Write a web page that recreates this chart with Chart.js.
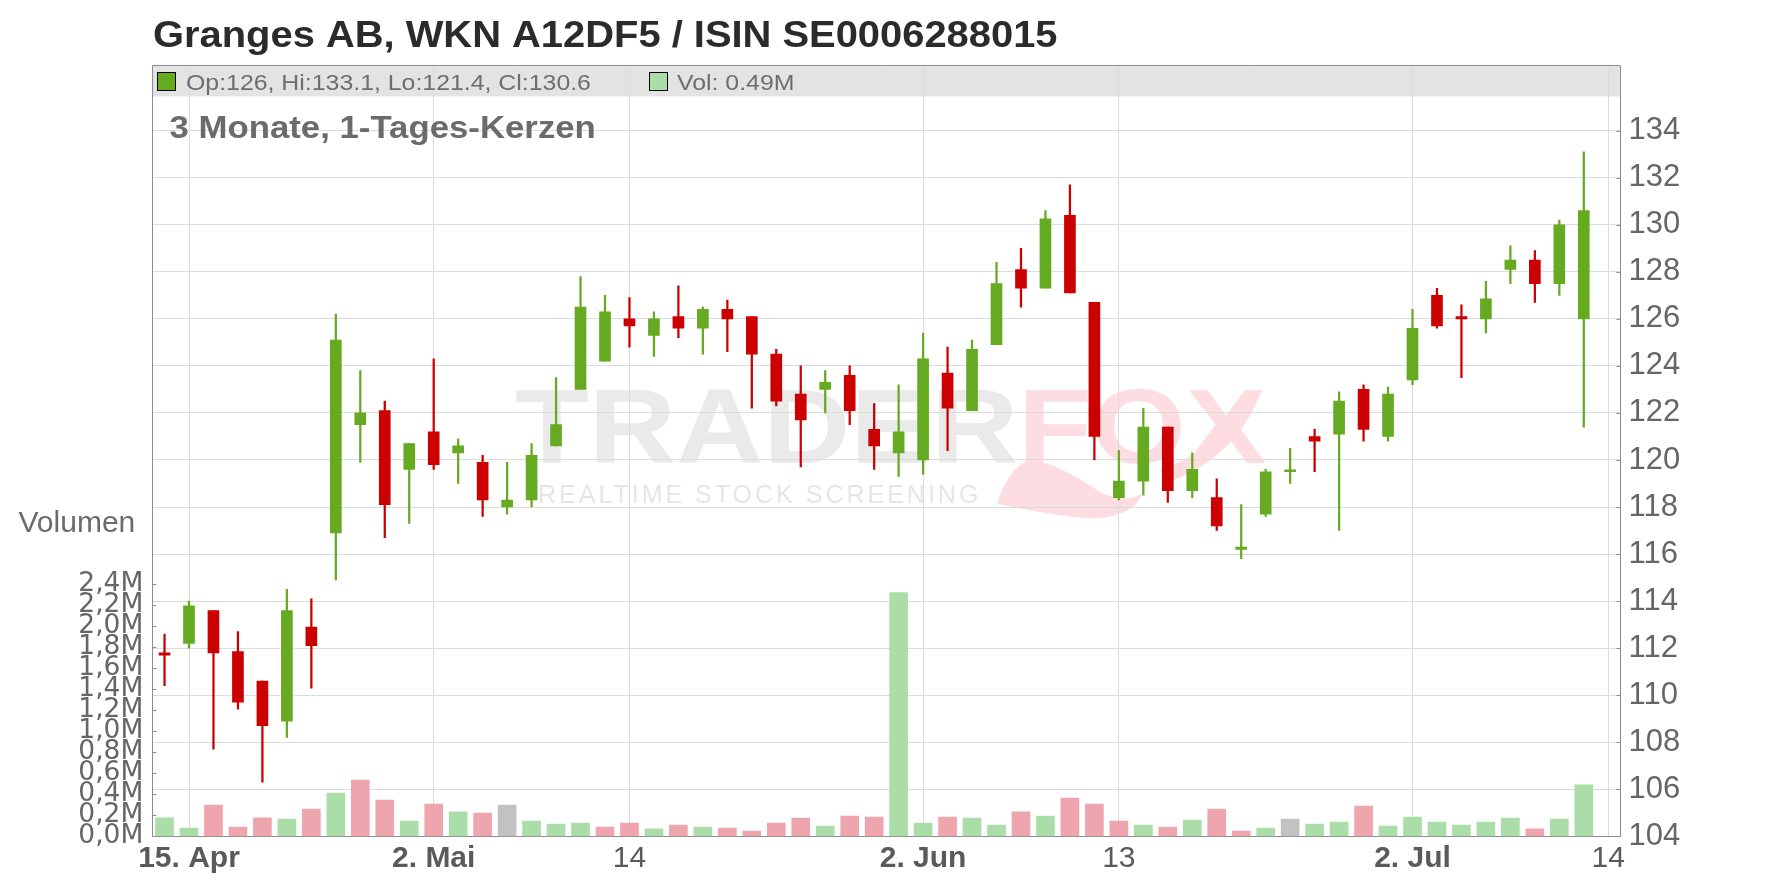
<!DOCTYPE html>
<html>
<head>
<meta charset="utf-8">
<script src="https://cdn.jsdelivr.net/npm/chart.js@4.4.1/dist/chart.umd.min.js"></script>
<style>
  html, body { margin: 0; padding: 0; background: #fff; }
  #wrap { width: 1776px; height: 888px; position: relative; }
</style>
</head>
<body>
<div id="wrap"><canvas id="chart" role="img" aria-label="Granges AB Kerzenchart 3 Monate"></canvas></div>
<script>
// trading days, Swedish calendar (last entry has no candle, only the axis tick)
const dates = [
  '2025-04-14','2025-04-15','2025-04-16','2025-04-17','2025-04-22','2025-04-23','2025-04-24','2025-04-25',
  '2025-04-28','2025-04-29','2025-04-30','2025-05-02','2025-05-05','2025-05-06','2025-05-07','2025-05-08',
  '2025-05-09','2025-05-12','2025-05-13','2025-05-14','2025-05-15','2025-05-16','2025-05-19','2025-05-20',
  '2025-05-21','2025-05-22','2025-05-23','2025-05-26','2025-05-27','2025-05-28','2025-05-30','2025-06-02',
  '2025-06-03','2025-06-04','2025-06-05','2025-06-09','2025-06-10','2025-06-11','2025-06-12','2025-06-13',
  '2025-06-16','2025-06-17','2025-06-18','2025-06-19','2025-06-23','2025-06-24','2025-06-25','2025-06-26',
  '2025-06-27','2025-06-30','2025-07-01','2025-07-02','2025-07-03','2025-07-04','2025-07-07','2025-07-08',
  '2025-07-09','2025-07-10','2025-07-11','2025-07-14'
];

const openPrices = [
  111.8, 112.2, 113.6, 111.85, 110.6, 108.9, 112.9, 116.9, 121.5, 122.1,
  119.6, 121.2, 120.3, 119.9, 118.0, 118.3, 120.6, 123.0, 124.2, 126.0,
  125.3, 126.1, 125.6, 126.4, 126.1, 124.5, 122.8, 123.0, 123.6, 121.3,
  120.3, 120.0, 123.7, 122.1, 124.9, 128.1, 127.3, 130.4, 126.7, 118.4,
  119.1, 121.4, 118.7, 118.4, 116.2, 117.7, 119.5, 121.0, 121.1, 123.0,
  121.0, 123.4, 127.0, 126.1, 126.0, 128.1, 128.5, 127.5, 126.0
];
const highPrices = [
  112.6, 114.0, 113.6, 112.7, 110.6, 114.5, 114.1, 126.2, 123.8, 122.5,
  120.7, 124.3, 120.9, 120.2, 119.9, 120.7, 123.5, 127.8, 127.0, 126.9,
  126.3, 127.4, 126.5, 126.8, 126.1, 124.7, 124.0, 123.8, 124.0, 122.4,
  123.2, 125.4, 124.8, 125.1, 128.4, 129.0, 130.6, 131.7, 126.7, 120.4,
  122.2, 121.4, 120.3, 119.2, 118.1, 119.6, 120.5, 121.3, 122.9, 123.2,
  123.1, 126.4, 127.3, 126.6, 127.6, 129.1, 128.9, 130.2, 133.1
];
const lowPrices = [
  110.4, 112.0, 107.7, 109.4, 106.3, 108.2, 110.3, 114.9, 119.9, 116.7,
  117.3, 119.6, 119.0, 117.6, 117.7, 118.0, 120.6, 123.0, 124.2, 124.8,
  124.4, 125.2, 124.5, 124.6, 122.2, 122.3, 119.7, 122.0, 121.5, 119.6,
  119.3, 119.4, 120.4, 122.1, 124.9, 126.5, 127.3, 127.1, 120.0, 118.3,
  118.5, 118.2, 118.4, 117.0, 115.8, 117.6, 119.0, 119.5, 117.0, 120.8,
  120.8, 123.2, 125.6, 123.5, 125.4, 127.5, 126.7, 127.0, 121.4
];
const closePrices = [
  111.7, 113.8, 111.8, 109.7, 108.7, 113.6, 112.1, 125.1, 122.0, 118.1,
  120.7, 119.8, 120.6, 118.3, 118.3, 120.2, 121.5, 126.5, 126.3, 125.7,
  126.0, 125.6, 126.4, 126.0, 124.5, 122.5, 121.7, 123.3, 122.1, 120.6,
  121.2, 124.3, 122.2, 124.7, 127.5, 127.3, 130.25, 127.1, 121.0, 119.1,
  121.4, 118.7, 119.6, 117.2, 116.3, 119.5, 119.55, 120.8, 122.5, 121.3,
  122.8, 125.6, 125.7, 126.0, 126.85, 128.5, 127.5, 130.0, 130.6
];
// volume in millions
const volumes = [
  0.177, 0.079, 0.298, 0.089, 0.177, 0.165, 0.26, 0.412, 0.536, 0.346,
  0.146, 0.308, 0.232, 0.222, 0.298, 0.146, 0.117, 0.127, 0.089, 0.127,
  0.070, 0.108, 0.089, 0.079, 0.05, 0.127, 0.174, 0.098, 0.193, 0.184,
  2.32, 0.127, 0.184, 0.174, 0.108, 0.232, 0.193, 0.365, 0.308, 0.146,
  0.108, 0.089, 0.155, 0.26, 0.05, 0.079, 0.165, 0.117, 0.136, 0.289,
  0.098, 0.184, 0.136, 0.108, 0.136, 0.174, 0.070, 0.165, 0.49
];
// close vs previous close: u = up, d = down, f = unchanged
const volumeTrend = [
  'u','u','d','d','d','u','d','u','d','d',
  'u','d','u','d','f','u','u','u','d','d',
  'u','d','u','d','d','d','d','u','d','d',
  'u','u','d','u','u','d','u','d','d','d',
  'u','d','u','d','d','u','f','u','u','d',
  'u','u','u','u','u','u','d','u','u'
];

const priceTicks = [104, 106, 108, 110, 112, 114, 116, 118, 120, 122, 124, 126, 128, 130, 132, 134];
const volumeTicks = [0, 0.2, 0.4, 0.6, 0.8, 1.0, 1.2, 1.4, 1.6, 1.8, 2.0, 2.2, 2.4];
const axisLabelDates = ['2025-04-15', '2025-05-02', '2025-05-14', '2025-06-02', '2025-06-13', '2025-07-02', '2025-07-14'];
const axisLabels = ['15. Apr', '2. Mai', '14', '2. Jun', '13', '2. Jul', '14'];

const lastBar = { op: 126, hi: 133.1, lo: 121.4, cl: 130.6, vol: 0.49 };

const GREEN = '#66aa22';
const RED = '#cc0000';
const VOL_COLORS = { u: '#aadda8', d: '#eea5ae', f: '#c2c2c2' };
const FONT = '"Liberation Sans", Arial, sans-serif';

// plot frame in page pixels
const FRAME = { left: 152.3, right: 1620.5, top: 66, bottom: 836.3 };
const PX_PER_EUR = 23.52;
const PX_PER_MIO = 105;

function axisLabelAt(i) {
  const k = axisLabelDates.indexOf(dates[i]);
  return k < 0 ? null : axisLabels[k];
}

function stretchedText(ctx, text, x, y, font, color, sx) {
  ctx.save();
  ctx.font = font;
  ctx.fillStyle = color;
  ctx.textAlign = 'left';
  ctx.textBaseline = 'alphabetic';
  ctx.translate(x, y);
  ctx.scale(sx, 1);
  ctx.fillText(text, 0, 0);
  ctx.restore();
}

const decorPlugin = {
  id: 'decor',
  beforeDraw(chart) {
    const { ctx, chartArea: a } = chart;
    ctx.save();
    ctx.fillStyle = '#fff';
    ctx.fillRect(0, 0, chart.width, chart.height);

    // legend band on top of the plot
    ctx.fillStyle = '#e3e3e3';
    ctx.fillRect(a.left, a.top, a.right - a.left, 30.5);

    // TRADERFOX watermark
    stretchedText(ctx, 'TRADER', 515, 463, 'bold 105px ' + FONT, '#eaeaea', 1.15);
    stretchedText(ctx, 'FOX', 1018, 463, 'bold 105px ' + FONT, '#fddde1', 1.15);
    ctx.font = '25px ' + FONT;
    ctx.fillStyle = '#e6e6e6';
    if ('letterSpacing' in ctx) ctx.letterSpacing = '3px';
    ctx.fillText('REALTIME STOCK SCREENING', 538, 503);
    if ('letterSpacing' in ctx) ctx.letterSpacing = '0px';
    // fox tail swoosh
    ctx.fillStyle = '#fddde1';
    ctx.beginPath();
    ctx.moveTo(997, 504);
    ctx.bezierCurveTo(1005, 478, 1018, 463, 1030, 460);
    ctx.bezierCurveTo(1052, 462, 1076, 476, 1100, 492);
    ctx.bezierCurveTo(1115, 500, 1130, 500, 1142, 494);
    ctx.bezierCurveTo(1136, 512, 1110, 520, 1085, 518);
    ctx.bezierCurveTo(1050, 515, 1020, 508, 997, 504);
    ctx.fill();
    ctx.beginPath();
    ctx.moveTo(1160, 470);
    ctx.bezierCurveTo(1200, 455, 1240, 430, 1262, 388);
    ctx.bezierCurveTo(1245, 440, 1205, 470, 1168, 482);
    ctx.fill();
    ctx.restore();
  },
  afterDraw(chart) {
    const { ctx, chartArea: a, scales } = chart;
    ctx.save();

    // frame top line
    ctx.strokeStyle = '#8c8c8c';
    ctx.lineWidth = 1;
    ctx.beginPath();
    ctx.moveTo(a.left, a.top - 0.5);
    ctx.lineTo(a.right, a.top - 0.5);
    ctx.stroke();

    // inner tick marks
    ctx.beginPath();
    priceTicks.forEach(v => {
      const y = Math.round(scales.y.getPixelForValue(v)) + 0.5;
      ctx.moveTo(a.right - 4, y);
      ctx.lineTo(a.right, y);
    });
    volumeTicks.forEach(v => {
      const y = Math.round(scales.yVol.getPixelForValue(v)) + 0.5;
      ctx.moveTo(a.left, y);
      ctx.lineTo(a.left + 4, y);
    });
    ctx.stroke();

    // title
    stretchedText(ctx, 'Granges AB, WKN A12DF5 / ISIN SE0006288015', 153, 46.7,
      'bold 36px ' + FONT, '#2b2b2b', 1.108);

    // legend entries inside the band
    ctx.lineWidth = 1;
    ctx.strokeStyle = '#000';
    ctx.fillStyle = GREEN;
    ctx.fillRect(157, 72.5, 18, 18);
    ctx.strokeRect(157.5, 72.5, 18, 18);
    stretchedText(ctx,
      `Op:${lastBar.op}, Hi:${lastBar.hi}, Lo:${lastBar.lo}, Cl:${lastBar.cl}`,
      186, 90, '22px ' + FONT, '#6e6e6e', 1.13);
    ctx.fillStyle = VOL_COLORS.u;
    ctx.fillRect(649.5, 72.5, 18, 18);
    ctx.strokeRect(649.5, 72.5, 18, 18);
    stretchedText(ctx, `Vol: ${lastBar.vol}M`, 677, 90, '22px ' + FONT, '#6e6e6e', 1.13);

    // period caption
    stretchedText(ctx, '3 Monate, 1-Tages-Kerzen', 169.5, 138,
      'bold 30.5px ' + FONT, '#6b6b6b', 1.14);

    // volume axis caption
    ctx.font = '30px ' + FONT;
    ctx.fillStyle = '#6b6b6b';
    ctx.textAlign = 'left';
    ctx.fillText('Volumen', 18.5, 531.7);
    ctx.restore();
  },
};

const priceMax = 104 + (FRAME.bottom - FRAME.top) / PX_PER_EUR;
const volumeMax = (FRAME.bottom - FRAME.top) / PX_PER_MIO;

new Chart(document.getElementById('chart'), {
  type: 'bar',
  data: {
    labels: dates,
    datasets: [
      {
        label: 'body',
        data: openPrices.map((o, i) => [o, closePrices[i]]),
        yAxisID: 'y',
        grouped: false,
        barThickness: 11,
        minBarLength: 2,
        borderWidth: 0,
        backgroundColor: openPrices.map((o, i) => closePrices[i] >= o ? GREEN : RED),
      },
      {
        label: 'wick',
        data: lowPrices.map((l, i) => [l, highPrices[i]]),
        yAxisID: 'y',
        grouped: false,
        barThickness: 1.6,
        borderWidth: 0,
        backgroundColor: openPrices.map((o, i) => closePrices[i] >= o ? GREEN : RED),
      },
      {
        label: 'Volumen',
        data: volumes,
        yAxisID: 'yVol',
        grouped: false,
        barThickness: 18,
        borderWidth: 0,
        backgroundColor: volumeTrend.map(t => VOL_COLORS[t]),
      },
    ],
  },
  options: {
    responsive: true,
    maintainAspectRatio: false,
    devicePixelRatio: 1,
    animation: false,
    events: [],
    layout: { padding: { top: FRAME.top, left: 0, right: 0, bottom: 0 } },
    plugins: { legend: { display: false }, tooltip: { enabled: false }, title: { display: false } },
    scales: {
      x: {
        type: 'category',
        position: 'bottom',
        offset: true,
        afterFit: s => { s.height = 888 - FRAME.bottom; },
        grid: {
          offset: false,
          drawTicks: false,
          color: c => axisLabelAt(c.index) ? '#dcdcdc' : 'rgba(0,0,0,0)',
          lineWidth: 1,
        },
        border: { color: '#8c8c8c', width: 1 },
        ticks: {
          autoSkip: false,
          maxRotation: 0,
          minRotation: 0,
          padding: 4,
          color: '#5a5a5a',
          font: c => ({
            family: FONT,
            size: 30,
            weight: /[A-Za-z]/.test(axisLabelAt(c.index) || '') ? 'bold' : 'normal',
          }),
          callback: (v, i) => axisLabelAt(i) || '',
        },
      },
      y: {
        position: 'right',
        min: 104,
        max: priceMax,
        afterBuildTicks: s => { s.ticks = priceTicks.map(v => ({ value: v })); },
        afterFit: s => { s.width = 1776 - FRAME.right; },
        grid: { color: '#dcdcdc', lineWidth: 1, drawTicks: false },
        border: { color: '#8c8c8c', width: 1 },
        ticks: {
          padding: 8,
          color: '#666',
          font: { family: FONT, size: 31 },
          callback: v => String(v),
        },
      },
      yVol: {
        position: 'left',
        min: 0,
        max: volumeMax,
        afterBuildTicks: s => { s.ticks = volumeTicks.map(v => ({ value: v })); },
        afterFit: s => { s.width = FRAME.left; },
        grid: { display: false, drawTicks: false },
        border: { color: '#8c8c8c', width: 1 },
        ticks: {
          autoSkip: false,
          padding: 9,
          color: '#666',
          font: { family: '"DejaVu Sans", sans-serif', size: 26.5 },
          callback: v => v.toFixed(1).replace('.', ',') + 'M',
        },
      },
    },
  },
  plugins: [decorPlugin],
});
</script>
</body>
</html>
